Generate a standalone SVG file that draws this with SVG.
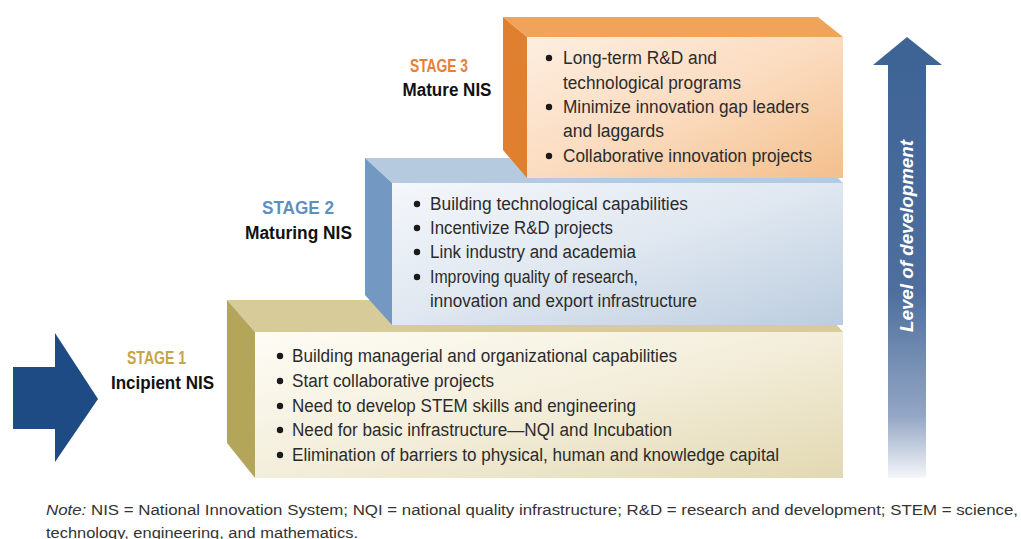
<svg xmlns="http://www.w3.org/2000/svg" width="1021" height="539" viewBox="0 0 1021 539">
<defs>
<style>
.b{font-family:"Liberation Sans",Arial,sans-serif;font-size:18px;fill:#2b2b2b}
.st{font-family:"Liberation Sans",Arial,sans-serif;font-size:18px;font-weight:bold}
.nm{fill:#111}
.note{font-family:"Liberation Sans",Arial,sans-serif;font-size:15.5px;fill:#333}
.dot{fill:#1a1a1a}
</style>
<linearGradient id="f1" x1="0" y1="0" x2="1" y2="1">
<stop offset="0" stop-color="#fefcf5"/><stop offset="0.5" stop-color="#f3eedb"/><stop offset="1" stop-color="#e2d8b2"/>
</linearGradient>
<linearGradient id="f2" x1="0" y1="0" x2="1" y2="1">
<stop offset="0" stop-color="#f4f7fb"/><stop offset="0.5" stop-color="#dfe7f0"/><stop offset="1" stop-color="#bccddf"/>
</linearGradient>
<linearGradient id="f3" x1="0" y1="0" x2="1" y2="1">
<stop offset="0" stop-color="#fdeee0"/><stop offset="0.5" stop-color="#fbdcc0"/><stop offset="1" stop-color="#f3bf8c"/>
</linearGradient>
<linearGradient id="up" x1="0" y1="0" x2="0" y2="1">
<stop offset="0" stop-color="#3e6496"/><stop offset="0.55" stop-color="#4e6f9d"/><stop offset="0.85" stop-color="#93a6c4"/><stop offset="1" stop-color="#f4f6fa"/>
</linearGradient>
</defs>
<rect width="1021" height="539" fill="#ffffff"/>

<g id="stage1">
<polygon points="227,300 815,300 843,332 255,332" fill="#d6cb99"/>
<polygon points="227,300 255,332 255,478 227,443" fill="#b3a65b"/>
<rect x="255" y="332" width="588" height="146" fill="url(#f1)"/>
<text class="st" x="156.5" y="364" text-anchor="middle" fill="#c6a44c" textLength="59" lengthAdjust="spacingAndGlyphs">STAGE 1</text>
<text class="st nm" x="162.5" y="389" text-anchor="middle" textLength="103" lengthAdjust="spacingAndGlyphs">Incipient NIS</text>
<circle class="dot" cx="280" cy="356" r="3.2"/>
<circle class="dot" cx="280" cy="381" r="3.2"/>
<circle class="dot" cx="280" cy="406" r="3.2"/>
<circle class="dot" cx="280" cy="430" r="3.2"/>
<circle class="dot" cx="280" cy="455" r="3.2"/>
<text class="b" x="292" y="362" textLength="385" lengthAdjust="spacingAndGlyphs">Building managerial and organizational capabilities</text>
<text class="b" x="292" y="387" textLength="202" lengthAdjust="spacingAndGlyphs">Start collaborative projects</text>
<text class="b" x="292" y="412" textLength="344" lengthAdjust="spacingAndGlyphs">Need to develop STEM skills and engineering</text>
<text class="b" x="292" y="436" textLength="380" lengthAdjust="spacingAndGlyphs">Need for basic infrastructure—NQI and Incubation</text>
<text class="b" x="292" y="461" textLength="487" lengthAdjust="spacingAndGlyphs">Elimination of barriers to physical, human and knowledge capital</text>
</g>

<g id="stage2">
<polygon points="365,158 818,158 843,183 392,183" fill="#b6cadf"/>
<polygon points="365,158 392,183 392,325 365,295" fill="#7399c2"/>
<rect x="392" y="183" width="451" height="142" fill="url(#f2)"/>
<text class="st" x="298" y="214" text-anchor="middle" fill="#5f8fc0" textLength="72" lengthAdjust="spacingAndGlyphs">STAGE 2</text>
<text class="st nm" x="298.5" y="239" text-anchor="middle" textLength="107" lengthAdjust="spacingAndGlyphs">Maturing NIS</text>
<circle class="dot" cx="417" cy="204" r="3.2"/>
<circle class="dot" cx="417" cy="228" r="3.2"/>
<circle class="dot" cx="417" cy="252" r="3.2"/>
<circle class="dot" cx="417" cy="277" r="3.2"/>
<text class="b" x="430" y="210" textLength="258" lengthAdjust="spacingAndGlyphs">Building technological capabilities</text>
<text class="b" x="430" y="234" textLength="183" lengthAdjust="spacingAndGlyphs">Incentivize R&amp;D projects</text>
<text class="b" x="430" y="258" textLength="206" lengthAdjust="spacingAndGlyphs">Link industry and academia</text>
<text class="b" x="430" y="283" textLength="208" lengthAdjust="spacingAndGlyphs">Improving quality of research,</text>
<text class="b" x="430" y="307" textLength="267" lengthAdjust="spacingAndGlyphs">innovation and export infrastructure</text>
</g>

<g id="stage3">
<polygon points="503,17 818,17 843,37 527,37" fill="#f0a35a"/>
<polygon points="503,17 527,37 527,178 503,150" fill="#e07f2e"/>
<rect x="527" y="37" width="316" height="141" fill="url(#f3)"/>
<text class="st" x="439" y="72" text-anchor="middle" fill="#e3803a" textLength="58" lengthAdjust="spacingAndGlyphs">STAGE 3</text>
<text class="st nm" x="447" y="96" text-anchor="middle" textLength="89" lengthAdjust="spacingAndGlyphs">Mature NIS</text>
<circle class="dot" cx="549" cy="58" r="3.2"/>
<circle class="dot" cx="549" cy="107" r="3.2"/>
<circle class="dot" cx="549" cy="156" r="3.2"/>
<text class="b" x="563" y="64" textLength="154" lengthAdjust="spacingAndGlyphs">Long-term R&amp;D and</text>
<text class="b" x="563" y="89" textLength="178" lengthAdjust="spacingAndGlyphs">technological programs</text>
<text class="b" x="563" y="113" textLength="246" lengthAdjust="spacingAndGlyphs">Minimize innovation gap leaders</text>
<text class="b" x="563" y="137" textLength="101" lengthAdjust="spacingAndGlyphs">and laggards</text>
<text class="b" x="563" y="162" textLength="249" lengthAdjust="spacingAndGlyphs">Collaborative innovation projects</text>
</g>

<g id="connectors">
<g id="level-arrow">
<rect x="888" y="64" width="38" height="414" fill="url(#up)"/>
<polygon points="873,65 907,37 942,65" fill="#3e6496"/>
<text x="0" y="0" transform="translate(913,236) rotate(-90)" text-anchor="middle" font-family="Liberation Sans, Arial, sans-serif" font-size="19" font-weight="bold" font-style="italic" fill="#ffffff" textLength="192" lengthAdjust="spacingAndGlyphs">Level of development</text>
</g>
<polygon id="pointer-arrow" points="13,367 55,367 55,333 98,399 55,462 55,429 13,429" fill="#1f4b85"/>
</g>

<g id="note">
<text class="note" x="46" y="515" textLength="972" lengthAdjust="spacingAndGlyphs"><tspan font-style="italic">Note:</tspan> NIS = National Innovation System; NQI = national quality infrastructure; R&amp;D = research and development; STEM = science,</text>
<text class="note" x="46" y="538" textLength="312" lengthAdjust="spacingAndGlyphs">technology, engineering, and mathematics.</text>
</g>
</svg>
